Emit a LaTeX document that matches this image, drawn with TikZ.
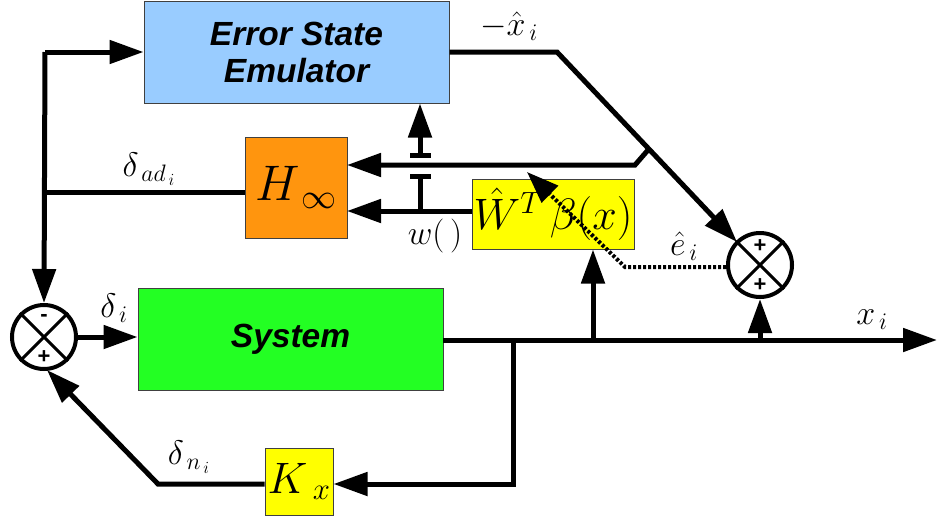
\RequirePackage{fix-cm}
\documentclass[tikz,border=0pt]{standalone}
\usepackage{fontspec}
\newfontfamily\sansf{Liberation Sans}
\usetikzlibrary{arrows.meta}
\definecolor{emublue}{HTML}{99CCFF}
\definecolor{horange}{HTML}{FF950E}
\definecolor{wyellow}{HTML}{FFFF00}
\definecolor{sysgreen}{HTML}{23FF23}
\begin{document}
\begin{tikzpicture}[x=1pt,y=-1pt,line width=5pt,
  blk/.style={draw=black!75,line width=1pt,inner sep=0pt},
  sumnode/.style={draw=black,circle,line width=4pt,minimum size=64pt,inner sep=0pt},
  arr/.style={-{Triangle[length=34pt,width=23pt]}},
  sgn/.style={font=\sansf\bfseries\fontsize{22}{22}\selectfont,inner sep=0pt},
  lbl/.style={font=\fontsize{34}{38}\selectfont,inner sep=0pt},
  bigtxt/.style={font=\sansf\bfseries\itshape\fontsize{33.5}{38}\selectfont,align=center}]
\useasboundingbox (0,0) rectangle (941,520);
% blocks
\node[blk,fill=emublue,minimum width=305pt,minimum height=102pt,bigtxt] (emu) at (296.5,52) {Error State\\[-1pt]Emulator};
\node[blk,fill=horange,minimum width=102pt,minimum height=101pt] (hinf) at (296,187.5) {\fontsize{50}{55}\selectfont$H_{\,\infty}$};
\node[blk,fill=wyellow,minimum width=162pt,minimum height=70pt] (wb) at (553,214) {\fontsize{44}{48}\selectfont$\hat{W}^{T}\,\beta(x)$};
\node[blk,fill=sysgreen,minimum width=305pt,minimum height=102pt,bigtxt] (sys) at (290.5,339) {System};
\node[blk,fill=wyellow,minimum width=68pt,minimum height=67pt] (kx) at (299,481.5) {\fontsize{44}{48}\selectfont$K_{\;x}$};
% summing junctions
\node[sumnode] (sumL) at (44,337) {};
\node[sumnode] (sumR) at (760,265) {};
\draw[line width=3pt] (sumL.45) -- (sumL.225) (sumL.135) -- (sumL.-45);
\draw[line width=3pt] (sumR.45) -- (sumR.225) (sumR.135) -- (sumR.-45);
\node[sgn] (mL) at (44,318) {-};
\node[sgn] (pL) at (44,357) {+};
\node[sgn] (pR1) at (760,246) {+};
\node[sgn] (pR2) at (760,285) {+};
% coordinates
\coordinate (cTL) at (45,52);
\coordinate (cHL) at (45,192);
\coordinate (cX1) at (557,52);
\coordinate (cB) at (648,150);
\coordinate (cB2) at (635,165);
\coordinate (cH1) at (347,165);
\coordinate (cW1) at (472,211);
\coordinate (cH2) at (347,211);
\coordinate (cJ0) at (420,211);
\coordinate (cJ1) at (420,176);
\coordinate (cJ2) at (420,155);
\coordinate (cOut) at (937,340);
\coordinate (cS0) at (443,340);
\coordinate (cK0) at (513,340);
\coordinate (cK1) at (513,484);
\coordinate (cK2) at (158,484);
\coordinate (cLin) at (47,370);
\coordinate (cWb) at (593,340);
\coordinate (cRb) at (760,340);
\coordinate (cD1) at (625,267);
\coordinate (cD2) at (527,172);
\coordinate (cRin) at (737,242);
% connectors
\draw[arr] (cTL) -- (emu.west);
\draw[arr] (cTL) -- (sumL.north);
\draw (hinf.west |- cHL) -- (cHL);
\draw[arr] (emu.east) -- (cX1) -- (cRin);
\draw[arr] (cB) -- (cB2) -- (cH1);
\draw[arr] (cW1) -- (cH2);
\draw (cJ0) -- (cJ1);
\draw (410,176) -- (431,176);
\draw (410,155) -- (431,155);
\draw[arr] (cJ2) -- (emu.south -| cJ2);
\draw[arr] (sumL.east) -- (sys.west |- sumL.east);
\draw[arr] (cS0) -- (cOut);
\draw[arr] (cK0) -- (cK1) -- (kx.east |- cK1);
\draw[arr] (kx.west |- cK2) -- (cK2) -- (cLin);
\draw[arr] (cWb) -- (wb.south -| cWb);
\draw[arr] (cRb) -- (sumR.south);
\draw[line width=4pt,dash pattern=on 3pt off 2pt,-{Triangle[length=32pt,width=23pt]}] (sumR.west |- cD1) -- (cD1) -- (cD2);
% labels
\node[lbl] (lx) at (509,26) {$-\hat{x}_{\,i}$};
\node[lbl] (lad) at (149,169) {$\delta_{\,ad_{\,i}}$};
\node[lbl] (lw) at (435,236) {$w(\,)$};
\node[lbl] (le) at (684,246) {$\hat{e}_{\,i}$};
\node[lbl] (ld) at (114,308) {$\delta_{\,i}$};
\node[lbl] (lxi) at (872,320) {$x_{\,i}$};
\node[lbl] (ldn) at (189,457) {$\delta_{\,n_{\,i}}$};
\end{tikzpicture}
\end{document}
